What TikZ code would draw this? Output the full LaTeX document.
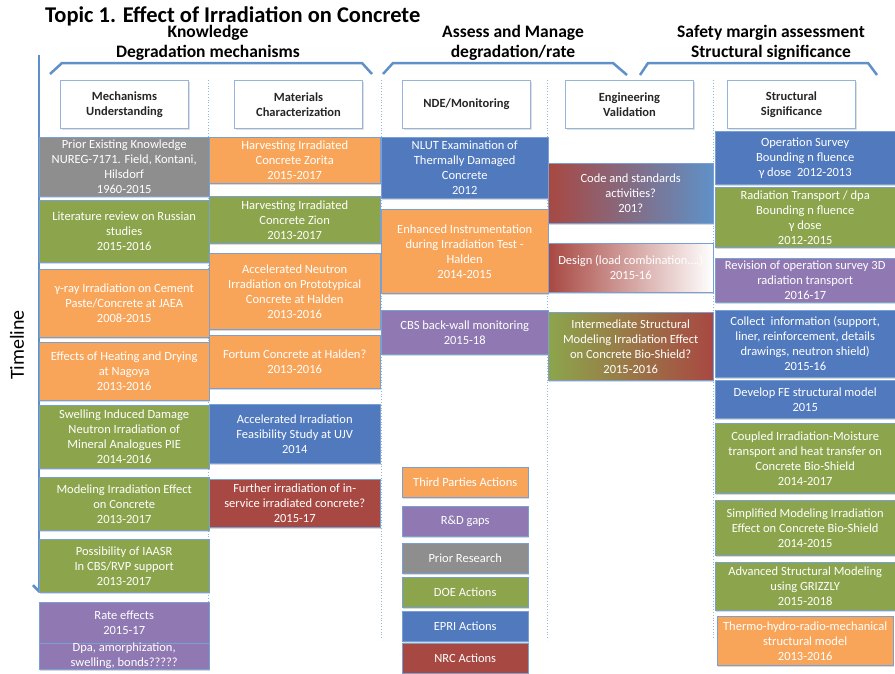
\documentclass[tikz,border=0pt]{standalone}
\usepackage{fontspec}
\setmainfont{Carlito}
\usetikzlibrary{shadows,arrows.meta}
\definecolor{orangeA}{RGB}{248,165,90}
\definecolor{greenA}{RGB}{140,165,76}
\definecolor{blueA}{RGB}{80,121,190}
\definecolor{purpleA}{RGB}{144,121,179}
\definecolor{grayA}{RGB}{142,142,142}
\definecolor{redA}{RGB}{168,72,66}
\definecolor{edgeA}{RGB}{120,160,210}
\definecolor{lineA}{RGB}{95,145,200}
\definecolor{navyA}{RGB}{30,78,122}
\definecolor{headA}{RGB}{150,180,215}

\begin{document}
\begin{tikzpicture}[x=1pt,y=-1pt,
  cell/.style={draw=edgeA, anchor=north west, text=white, align=center,
    inner sep=0pt, font=\fontsize{12.5}{15}\selectfont,
    drop shadow={shadow xshift=1pt, shadow yshift=-1.5pt, opacity=0.3}},
  colone/.style={cell, minimum width=170pt},
  coltwo/.style={cell, minimum width=171pt},
  colthree/.style={cell, minimum width=167pt},
  colfour/.style={cell, minimum width=165pt},
  colfive/.style={cell, minimum width=180pt},
  key/.style={cell, minimum width=126pt, minimum height=30pt},
  head/.style={draw=headA, fill=white, line width=1pt, anchor=north west,
    minimum width=128pt, minimum height=48pt, align=center, inner sep=0pt,
    font=\fontsize{12.5}{15}\selectfont\bfseries, text=black!85,
    drop shadow={shadow xshift=1pt, shadow yshift=-1.5pt, opacity=0.25}},
  group/.style={font=\fontsize{17.5}{20}\selectfont\bfseries, align=center, inner sep=0pt},
  brace/.style={draw=lineA, line width=2.5pt, line join=round}]
\useasboundingbox (0,0) rectangle (895,673);

% column dividers
\foreach \xx in {208,381,547,713}
  \draw [headA, dotted, thick] (\xx,80) -- (\xx,640);

% titles
\node [font=\fontsize{22.5}{25}\selectfont\bfseries, anchor=west, inner sep=0pt] (title) at (45,16) {Topic 1. Effect of Irradiation on Concrete};
\node [group] (know) at (208,43) {Knowledge\\Degradation mechanisms};
\node [group] (assess) at (513,43) {Assess and Manage\\degradation/rate};
\node [group] (safety) at (771,43) {Safety margin assessment\\Structural significance};

% brackets
\draw [brace] (50,74) -- (62,63) -- (362,63) -- (372,74);
\draw [brace] (383,74) -- (393,63) -- (613,63) -- (627,75);
\draw [brace] (640,75) -- (648,63) -- (868,63) -- (877,75);

% timeline
\coordinate (tltop) at (39,55);
\coordinate (tlend) at (39,593);
\draw [lineA, line width=2.5pt, -{Straight Barb[length=6pt,width=12pt]}] (tltop) -- (tlend);
\node [rotate=90, font=\fontsize{20}{25}\selectfont, inner sep=0pt] (timeline) at (17,345) {Timeline};

% headers
\node [head] (mech) at (60,80) {Mechanisms\\Understanding};
\node [head] (matl) at (234,80) {Materials\\Characterization};
\node [head] (nde) at (402,80) {NDE/Monitoring};
\node [head] (eng) at (565,80) {Engineering\\Validation};
\node [head] (struct) at (727,80) {Structural\\Significance};

% column 1
\node [colone, fill=grayA, minimum height=59pt] (prior) at (39,137) {Prior Existing Knowledge\\NUREG-7171. Field, Kontani,\\Hilsdorf\\1960-2015};
\node [colone, fill=greenA, minimum height=62pt] (russian) at (39,200) {Literature review on Russian\\studies\\2015-2016};
\node [colone, fill=orangeA, minimum height=68pt] (gamma) at (39,269) {γ-ray Irradiation on Cement\\Paste/Concrete at JAEA\\2008-2015};
\node [colone, fill=orangeA, minimum height=58pt] (nagoya) at (39,342) {Effects of Heating and Drying\\at Nagoya\\2013-2016};
\node [colone, fill=greenA, minimum height=63pt] (swelling) at (39,405) {Swelling Induced Damage\\Neutron Irradiation of\\Mineral Analogues PIE\\2014-2016};
\node [colone, fill=greenA, minimum height=53pt] (modeling) at (39,477) {Modeling Irradiation Effect\\on Concrete\\2013-2017};
\node [colone, fill=greenA, minimum height=53pt] (iaasr) at (39,539) {Possibility of IAASR\\In CBS/RVP support\\2013-2017};
\node [colone, fill=purpleA, minimum height=41pt] (rate) at (39,602) {Rate effects\\2015-17};
\node [colone, fill=purpleA, minimum height=26pt] (dpa) at (39,643) {Dpa, amorphization,\\swelling, bonds?????};

% column 2
\node [coltwo, fill=orangeA, minimum height=46pt] (zorita) at (209,137) {Harvesting Irradiated\\Concrete Zorita\\2015-2017};
\node [coltwo, fill=greenA, minimum height=47pt] (zion) at (209,196) {Harvesting Irradiated\\Concrete Zion\\2013-2017};
\node [coltwo, fill=orangeA, minimum height=76pt] (halden) at (209,253) {Accelerated Neutron\\Irradiation on Prototypical\\Concrete at Halden\\2013-2016};
\node [coltwo, fill=orangeA, minimum height=53pt] (fortum) at (209,335) {Fortum Concrete at Halden?\\2013-2016};
\node [coltwo, fill=blueA, minimum height=59pt] (ujv) at (209,404) {Accelerated Irradiation\\Feasibility Study at UJV\\2014};
\node [coltwo, fill=redA, minimum height=48pt] (further) at (209,479) {Further irradiation of in-\\service irradiated concrete?\\2015-17};

% column 3
\node [colthree, fill=blueA, minimum height=61pt] (nlut) at (381,137) {NLUT Examination of\\Thermally Damaged\\Concrete\\2012};
\node [colthree, fill=orangeA, minimum height=84pt] (instr) at (381,209) {Enhanced Instrumentation\\during Irradiation Test -\\Halden\\2014-2015};
\node [colthree, fill=purpleA, minimum height=44pt] (cbs) at (381,310) {CBS back-wall monitoring\\2015-18};

% column 4
\node [colfour, left color=redA, right color=lineA, minimum height=60pt] (code) at (548,163) {Code and standards\\activities?\\201?};
\node [colfour, left color=redA, middle color=navyA, right color=white, minimum height=49pt] (design) at (548,243) {Design (load combination….)\\2015-16};
\node [colfour, left color=greenA, right color=redA, minimum height=68pt] (interm) at (548,312) {Intermediate Structural\\Modeling Irradiation Effect\\on Concrete Bio-Shield?\\2015-2016};

% column 5
\node [colfive, fill=blueA, minimum height=53pt] (opsurvey) at (715,131) {Operation Survey\\Bounding n fluence\\γ dose\ \ 2012-2013};
\node [colfive, fill=greenA, minimum height=60pt] (radtrans) at (715,187) {Radiation Transport / dpa\\Bounding n fluence\\γ dose\\2012-2015};
\node [colfive, fill=purpleA, minimum height=44pt] (revision) at (715,258) {Revision of operation survey 3D\\radiation transport\\2016-17};
\node [colfive, fill=blueA, minimum height=67pt] (collect) at (715,310) {Collect\ \ information (support,\\liner, reinforcement, details\\drawings, neutron shield)\\2015-16};
\node [colfive, fill=blueA, minimum height=38pt] (fe) at (715,380) {Develop FE structural model\\2015};
\node [colfive, fill=greenA, minimum height=70pt] (coupled) at (715,423) {Coupled Irradiation-Moisture\\transport and heat transfer on\\Concrete Bio-Shield\\2014-2017};
\node [colfive, fill=greenA, minimum height=55pt] (simplified) at (715,500) {Simplified Modeling Irradiation\\Effect on Concrete Bio-Shield\\2014-2015};
\node [colfive, fill=greenA, minimum height=48pt] (advanced) at (715,562) {Advanced Structural Modeling\\using GRIZZLY\\2015-2018};
\node [colfive, fill=orangeA, minimum width=176pt, minimum height=49pt] (thermo) at (717,616) {Thermo-hydro-radio-mechanical\\structural model\\2013-2016};

% legend
\node [key, fill=orangeA] (third) at (402,467) {Third Parties Actions};
\node [key, fill=purpleA] (gaps) at (402,506) {R\&D gaps};
\node [key, fill=grayA] (prres) at (402,543) {Prior Research};
\node [key, fill=greenA] (doe) at (402,577) {DOE Actions};
\node [key, fill=blueA] (epri) at (402,611) {EPRI Actions};
\node [key, fill=redA] (nrc) at (402,643) {NRC Actions};
\end{tikzpicture}
\end{document}
